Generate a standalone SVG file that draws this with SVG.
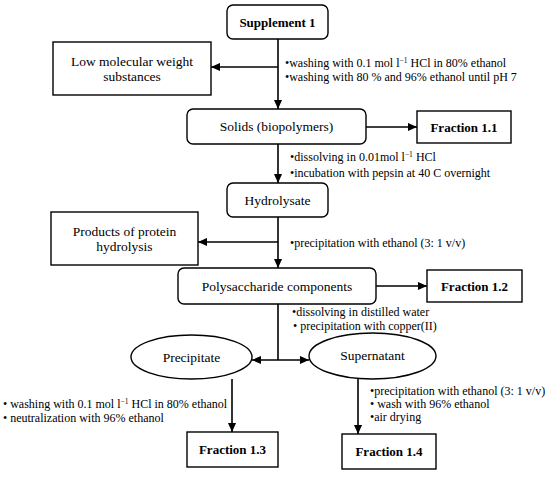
<svg xmlns="http://www.w3.org/2000/svg" width="550" height="477" viewBox="0 0 550 477">
<defs>
<marker id="ah" viewBox="0 0 10 10" refX="10" refY="5" markerWidth="9" markerHeight="9" markerUnits="userSpaceOnUse" orient="auto-start-reverse"><path d="M0,0.5 L10,5 L0,9.5 z" fill="#000"/></marker>
<style>
.box{fill:#fff;stroke:#000;stroke-width:1.4}
.ln{fill:none;stroke:#000;stroke-width:1.6}
.t{font-family:"Liberation Serif","DejaVu Serif",serif;font-size:13.5px;fill:#000;text-anchor:middle}
.b{font-weight:bold;font-size:13px}
.n{font-family:"Liberation Serif","DejaVu Serif",serif;font-size:12px;fill:#000}
.s{font-size:7.5px}
</style>
</defs>
<rect width="550" height="477" fill="#fff"/>
<g id="connectors">
<line class="ln" x1="278" y1="39" x2="278" y2="109" marker-end="url(#ah)"/>
<line class="ln" x1="278" y1="67" x2="211" y2="67" marker-end="url(#ah)"/>
<line class="ln" x1="366" y1="127" x2="417" y2="127" marker-end="url(#ah)"/>
<line class="ln" x1="278" y1="144" x2="278" y2="183" marker-end="url(#ah)"/>
<line class="ln" x1="278" y1="217" x2="278" y2="268" marker-end="url(#ah)"/>
<line class="ln" x1="278" y1="242" x2="198" y2="242" marker-end="url(#ah)"/>
<line class="ln" x1="376" y1="286" x2="427" y2="286" marker-end="url(#ah)"/>
<line class="ln" x1="278" y1="304" x2="278" y2="360"/>
<line class="ln" x1="252" y1="360" x2="309" y2="360" marker-start="url(#ah)" marker-end="url(#ah)"/>
<line class="ln" x1="232" y1="379" x2="232" y2="432" marker-end="url(#ah)"/>
<line class="ln" x1="358" y1="379" x2="358" y2="434" marker-end="url(#ah)"/>
</g>
<g id="supplement1"><rect class="box" x="227" y="5" width="101" height="34" rx="6"/><text class="t b" x="277.5" y="27">Supplement 1</text></g>
<g id="lowmol"><rect class="box" x="53" y="42" width="158" height="53"/><text class="t" x="132" y="66">Low molecular weight</text><text class="t" x="132" y="81">substances</text></g>
<g id="notes1"><text class="n" x="285" y="67">•washing with 0.1 mol l<tspan class="s" dy="-4">−1</tspan><tspan dy="4"> HCl in 80% ethanol</tspan></text><text class="n" x="285" y="81">•washing with 80 % and 96% ethanol until pH 7</text></g>
<g id="solids"><rect class="box" x="187" y="109" width="179" height="35" rx="6"/><text class="t" x="276.5" y="131">Solids (biopolymers)</text></g>
<g id="fraction11"><rect class="box" x="417" y="111" width="94" height="32"/><text class="t b" x="464" y="131.5">Fraction 1.1</text></g>
<g id="notes2"><text class="n" x="290" y="161">•dissolving in 0.01mol l<tspan class="s" dy="-4">−1</tspan><tspan dy="4"> HCl</tspan></text><text class="n" x="290" y="177">•incubation with pepsin at 40 C overnight</text></g>
<g id="hydrolysate"><rect class="box" x="227" y="183" width="101" height="34" rx="6"/><text class="t" x="277.5" y="205">Hydrolysate</text></g>
<g id="products"><rect class="box" x="51" y="212" width="147" height="53"/><text class="t" x="124.5" y="236">Products of protein</text><text class="t" x="124.5" y="251">hydrolysis</text></g>
<g id="notes3"><text class="n" x="290" y="247">•precipitation with ethanol (3: 1 v/v)</text></g>
<g id="polysaccharide"><rect class="box" x="178" y="268" width="198" height="36" rx="6"/><text class="t" x="277" y="290.5">Polysaccharide components</text></g>
<g id="fraction12"><rect class="box" x="427" y="270" width="95" height="32"/><text class="t b" x="474.5" y="290.5">Fraction 1.2</text></g>
<g id="notes4"><text class="n" x="292" y="316">•dissolving in distilled water</text><text class="n" x="293" y="330">• precipitation with copper(II)</text></g>
<g id="precipitate"><ellipse class="box" cx="191.5" cy="357" rx="60.5" ry="22"/><text class="t" x="191.5" y="361.5">Precipitate</text></g>
<g id="supernatant"><ellipse class="box" cx="372.5" cy="356" rx="63.5" ry="23"/><text class="t" x="372.5" y="360">Supernatant</text></g>
<g id="notes5"><text class="n" x="3" y="408">• washing with 0.1 mol l<tspan class="s" dy="-4">−1</tspan><tspan dy="4"> HCl in 80% ethanol</tspan></text><text class="n" x="3" y="422">• neutralization with 96% ethanol</text></g>
<g id="notes6"><text class="n" x="370" y="395">•precipitation with ethanol (3: 1 v/v)</text><text class="n" x="370" y="408">• wash with 96% ethanol</text><text class="n" x="370" y="421">•air drying</text></g>
<g id="fraction13"><rect class="box" x="187" y="432" width="91" height="35"/><text class="t b" x="232.5" y="454">Fraction 1.3</text></g>
<g id="fraction14"><rect class="box" x="342" y="434" width="94" height="35"/><text class="t b" x="389" y="456">Fraction 1.4</text></g>
</svg>
